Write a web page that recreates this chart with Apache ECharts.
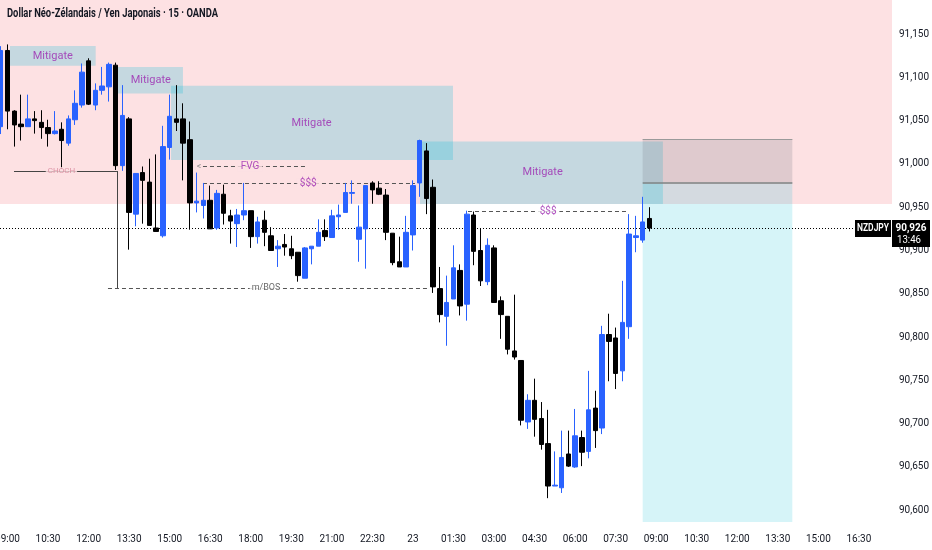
<!DOCTYPE html>
<html><head><meta charset="utf-8">
<script src="https://cdn.jsdelivr.net/npm/echarts@6/dist/echarts.min.js"></script>
<style>html,body{margin:0;padding:0;background:#fff}#c{width:932px;height:550px}</style>
</head><body><div id="c"></div>
<script>
// ---- data (15-minute candles, NZDJPY, index 0 = 09:00 on the 22nd; first candle is 08:45) ----
const FIRST_INDEX = -1;
const opens = [91.043,91.131,91.061,91.046,91.043,91.052,91.048,91.042,91.035,91.040,91.024,91.051,91.068,91.119,91.068,91.085,91.089,91.114,90.998,91.052,90.942,90.990,90.979,90.926,90.917,91.019,91.052,91.052,91.028,90.955,90.952,90.958,90.926,90.965,90.940,90.931,90.941,90.946,90.916,90.935,90.917,90.902,90.907,90.902,90.898,90.868,90.902,90.905,90.923,90.915,90.939,90.944,90.966,90.913,90.925,90.978,90.972,90.964,90.920,90.887,90.881,90.918,90.978,91.015,90.973,90.856,90.824,90.844,90.877,90.838,90.941,90.900,90.864,90.903,90.842,90.824,90.784,90.773,90.702,90.727,90.706,90.677,90.628,90.626,90.665,90.650,90.684,90.668,90.718,90.695,90.803,90.799,90.761,90.812,90.915,90.912,90.937];
const highs = [91.136,91.138,91.062,91.080,91.080,91.061,91.062,91.051,91.061,91.048,91.056,91.085,91.116,91.122,91.093,91.112,91.117,91.117,91.091,91.054,90.989,90.997,91.006,91.011,91.044,91.080,91.091,91.070,91.049,90.990,90.978,90.975,90.970,90.976,90.947,90.948,90.978,90.946,90.939,90.946,90.927,90.912,90.919,90.917,90.898,90.904,90.905,90.936,90.936,90.947,90.953,90.978,90.981,90.952,90.975,90.980,90.980,90.971,90.920,90.916,90.940,90.981,91.028,91.024,90.982,90.881,90.871,90.906,90.884,90.946,90.945,90.926,90.914,90.906,90.847,90.824,90.849,90.773,90.734,90.752,90.725,90.716,90.668,90.692,90.692,90.717,90.692,90.761,90.738,90.813,90.827,90.811,90.865,90.942,90.940,90.962,90.950];
const lows = [91.0345,91.040,91.020,91.027,91.043,91.035,91.029,91.020,91.034,90.994,91.021,91.045,91.065,91.068,91.062,91.080,91.072,90.993,90.992,90.901,90.928,90.931,90.929,90.922,90.915,91.005,91.038,90.981,90.924,90.944,90.937,90.925,90.924,90.930,90.908,90.904,90.935,90.903,90.908,90.905,90.900,90.881,90.894,90.890,90.864,90.868,90.884,90.905,90.911,90.915,90.924,90.944,90.954,90.887,90.879,90.954,90.964,90.912,90.883,90.881,90.881,90.900,90.962,90.942,90.851,90.817,90.790,90.844,90.825,90.819,90.883,90.859,90.860,90.840,90.798,90.780,90.774,90.698,90.694,90.685,90.670,90.614,90.628,90.620,90.650,90.649,90.651,90.660,90.672,90.688,90.749,90.740,90.749,90.798,90.898,90.909,90.922];
const closes = [91.131,91.061,91.045,91.043,91.052,91.050,91.042,91.035,91.038,91.027,91.052,91.070,91.106,91.069,91.085,91.090,91.115,90.998,91.056,90.944,90.989,90.981,90.929,90.922,91.020,91.055,91.048,91.024,90.955,90.957,90.958,90.925,90.966,90.943,90.934,90.941,90.946,90.916,90.933,90.921,90.900,90.905,90.904,90.894,90.871,90.903,90.905,90.921,90.916,90.940,90.941,90.967,90.967,90.927,90.975,90.970,90.965,90.921,90.886,90.881,90.921,90.975,91.027,90.960,90.858,90.826,90.840,90.880,90.836,90.942,90.899,90.865,90.906,90.840,90.826,90.786,90.777,90.704,90.727,90.705,90.676,90.628,90.629,90.661,90.651,90.686,90.667,90.716,90.692,90.803,90.795,90.758,90.817,90.919,90.917,90.933,90.926];

const tickIndex = [0,6,12,18,24,30,36,42,48,54,60,66,72,78,84,90,96,102,108,114,120,126];
const tickLabels = ['09:00','10:30','12:00','13:30','15:00','16:30','18:00','19:30','21:00','22:30','23','01:30','03:00','04:30','06:00','07:30','09:00','10:30','12:00','13:30','15:00','16:30'];
const priceTicks = [90.60,90.65,90.70,90.75,90.80,90.85,90.90,90.95,91.00,91.05,91.10,91.15];

const symbolName = 'NZDJPY';
const lastPrice = 90.926;
const countdown = '13:46';
const titleText = 'Dollar Néo-Zélandais / Yen Japonais · 15 · OANDA';

// annotation geometry, in [candle index, price]
const premiumZone = [90.9537, 91.1893];
const mitigateBoxes = [
  [0.37, 13.05, 91.1134, 91.1361],
  [16.35, 25.97, 91.0813, 91.1119],
  [24.2, 65.93, 91.0045, 91.0903],
  [61.05, 97.0, 90.9537, 91.0259]
];
const mitigateLabelPos = [[6.7, 91.1248], [21.2, 91.0966], [45.0, 91.0474], [79.2, 90.9900]];
const position = { x1: 94.0, x2: 116.15, stop: 91.0288, entry: 90.9788, target: 90.5865 };
const chochLine = [0.96, 16.2, 90.9918];
const bosLine = [14.87, 62.08, 90.8567];
const fvgLine = [28.93, 44.03, 90.9968];
const liq1Line = [28.93, 60.3, 90.9776];
const liq2Line = [68.15, 91.7, 90.9456];

const X_MIN = -1.11, X_MAX = 130.9, Y_MIN = 90.583, Y_MAX = 91.1893;

const FONT = "Roboto,'Liberation Sans',sans-serif";
const PINK = 'rgba(242,54,69,0.15)';
const PINK_SOLID = '#fde1e3';
const TEAL = 'rgba(0,188,212,0.22)';
const PURPLE = '#9c27b0';

const chart = echarts.init(document.getElementById('c'), null, { renderer: 'canvas' });

const candleData = opens.map((o, k) => [k + FIRST_INDEX, o, closes[k], lows[k], highs[k]]);

function seg(x1, x2, y, style) {
  return [{ coord: [x1, y], lineStyle: style }, { coord: [x2, y] }];
}
const dashed = { color: '#555', width: 1, type: [4, 3] };

const labelItems = [
  ...mitigateLabelPos.map(p => ({ value: p, name: 'Mitigate', label: { color: PURPLE, fontSize: 11 } })),
  { value: [(chochLine[0] + chochLine[1]) / 2 - 0.6, chochLine[2]], name: 'CHOCH', label: { color: '#d47f93', fontSize: 8, backgroundColor: PINK_SOLID, padding: [0, 2] } },
  { value: [38.26, bosLine[2]], name: 'm/BOS', label: { color: '#444', fontSize: 9, backgroundColor: '#fff', padding: [0, 2] } },
  { value: [35.9, fvgLine[2]], name: 'FVG', label: { color: PURPLE, fontSize: 10, backgroundColor: PINK_SOLID, padding: [0, 3] } },
  { value: [44.5, liq1Line[2]], name: '$$$', label: { color: PURPLE, fontSize: 10, backgroundColor: PINK_SOLID, padding: [0, 3] } },
  { value: [80.0, liq2Line[2]], name: '$$$', label: { color: PURPLE, fontSize: 10, backgroundColor: '#fff', padding: [0, 3] } },
  { value: [28.34, fvgLine[2]], name: '<', label: { color: '#777', fontSize: 9 } }
];

chart.setOption({
  animation: false,
  backgroundColor: '#fff',
  grid: { left: 0, right: 40, top: 0, bottom: 25, containLabel: false, outerBoundsMode: 'none' },
  xAxis: {
    type: 'value', min: X_MIN, max: X_MAX,
    splitLine: { show: false }, axisLine: { show: false }, axisTick: { show: false },
    axisLabel: {
      customValues: tickIndex, margin: 9, color: '#131722', fontSize: 10, fontFamily: FONT, hideOverlap: false,
      formatter: v => { const k = tickIndex.indexOf(Math.round(v)); return k >= 0 ? tickLabels[k] : ''; }
    }
  },
  yAxis: {
    type: 'value', position: 'right', min: Y_MIN, max: Y_MAX, scale: true,
    splitLine: { show: false }, axisLine: { show: false }, axisTick: { show: false },
    axisLabel: {
      customValues: priceTicks, margin: 7, color: '#131722', fontSize: 10, fontFamily: FONT,
      formatter: v => v.toFixed(3).replace('.', ',')
    }
  },
  series: [
    { // background zones and boxes
      type: 'line', data: [[X_MIN, Y_MIN]], symbol: 'none', lineStyle: { opacity: 0 }, silent: true, z: 0,
      markArea: {
        silent: true, z: 0,
        data: [
          [{ coord: [X_MIN, premiumZone[0]], itemStyle: { color: PINK } }, { coord: [X_MAX, premiumZone[1]] }],
          ...mitigateBoxes.map(b => [{ coord: [b[0], b[2]], itemStyle: { color: TEAL } }, { coord: [b[1], b[3]] }]),
          [{ coord: [position.x1, position.entry], itemStyle: { color: 'rgba(120,123,134,0.22)' } }, { coord: [position.x2, position.stop] }],
          [{ coord: [position.x1, position.target], itemStyle: { color: 'rgba(0,188,212,0.16)' } }, { coord: [position.x2, position.entry] }]
        ]
      }
    },
    { // drawn lines
      type: 'line', data: [[X_MIN, Y_MIN]], symbol: 'none', lineStyle: { opacity: 0 }, silent: true, z: 1,
      markLine: {
        silent: true, z: 1, symbol: ['none', 'none'], label: { show: false },
        data: [
          seg(chochLine[0], chochLine[1], chochLine[2], { color: '#444', width: 1, type: 'solid' }),
          [{ coord: [chochLine[1], chochLine[2]], lineStyle: { color: '#444', width: 1, type: 'solid' } }, { coord: [chochLine[1], bosLine[2]] }],
          seg(bosLine[0], bosLine[1], bosLine[2], dashed),
          seg(fvgLine[0], fvgLine[1], fvgLine[2], dashed),
          seg(liq1Line[0], liq1Line[1], liq1Line[2], dashed),
          seg(liq2Line[0], liq2Line[1], liq2Line[2], dashed),
          seg(position.x1, position.x2, position.stop, { color: '#9a9a9a', width: 1, type: 'solid' }),
          seg(position.x1, position.x2, position.entry, { color: '#808080', width: 1.5, type: 'solid' }),
          seg(X_MIN, 125.3, lastPrice, { color: '#000', width: 1, type: [1, 2] })
        ]
      }
    },
    {
      type: 'candlestick', name: 'NZDJPY', data: candleData, encode: { x: 0, y: [1, 2, 3, 4] },
      barWidth: 5, z: 3, clip: true,
      itemStyle: { color: '#2962ff', color0: '#000000', borderColor: '#2962ff', borderColor0: '#000000', borderWidth: 1 }
    },
    {
      type: 'scatter', data: labelItems, symbolSize: 0, z: 5, silent: true,
      label: { show: true, position: 'inside', fontFamily: FONT, formatter: p => p.name }
    }
  ]
});

// fit text into a target width (the reference uses a condensed UI font)
function fitScale(text, font, target) {
  const ctx = document.createElement('canvas').getContext('2d');
  ctx.font = font;
  const w = ctx.measureText(text).width;
  return Math.min(1, target / w);
}
const titleFont = "700 12px " + FONT;
const py = Math.round(chart.convertToPixel({ yAxisIndex: 0 }, lastPrice));
const symFont = "600 10px " + FONT;
const priceFont = "700 11px " + FONT;
const timeFont = "400 10.5px " + FONT;
const priceText = lastPrice.toFixed(3).replace('.', ',');
chart.setOption({
  graphic: [
    { type: 'text', x: 7, y: 14, scaleX: fitScale(titleText, titleFont, 211), style: { text: titleText, fill: '#131722', font: titleFont, textVerticalAlign: 'middle' }, z: 100 },
    { type: 'rect', shape: { x: 855, y: py - 8, width: 36, height: 17 }, style: { fill: '#000' }, z: 100 },
    { type: 'text', x: 873, y: py + 0.5, scaleX: fitScale(symbolName, symFont, 32), style: { text: symbolName, fill: '#fff', font: symFont, textAlign: 'center', textVerticalAlign: 'middle' }, z: 101 },
    { type: 'rect', shape: { x: 892, y: py - 8, width: 38, height: 27 }, style: { fill: '#000' }, z: 100 },
    { type: 'text', x: 911, y: py + 0.5, scaleX: fitScale(priceText, priceFont, 31), style: { text: priceText, fill: '#fff', font: priceFont, textAlign: 'center', textVerticalAlign: 'middle' }, z: 101 },
    { type: 'text', x: 909, y: py + 12, scaleX: fitScale(countdown, timeFont, 24), style: { text: countdown, fill: '#fff', font: timeFont, textAlign: 'center', textVerticalAlign: 'middle' }, z: 101 }
  ]
});
</script></body></html>
